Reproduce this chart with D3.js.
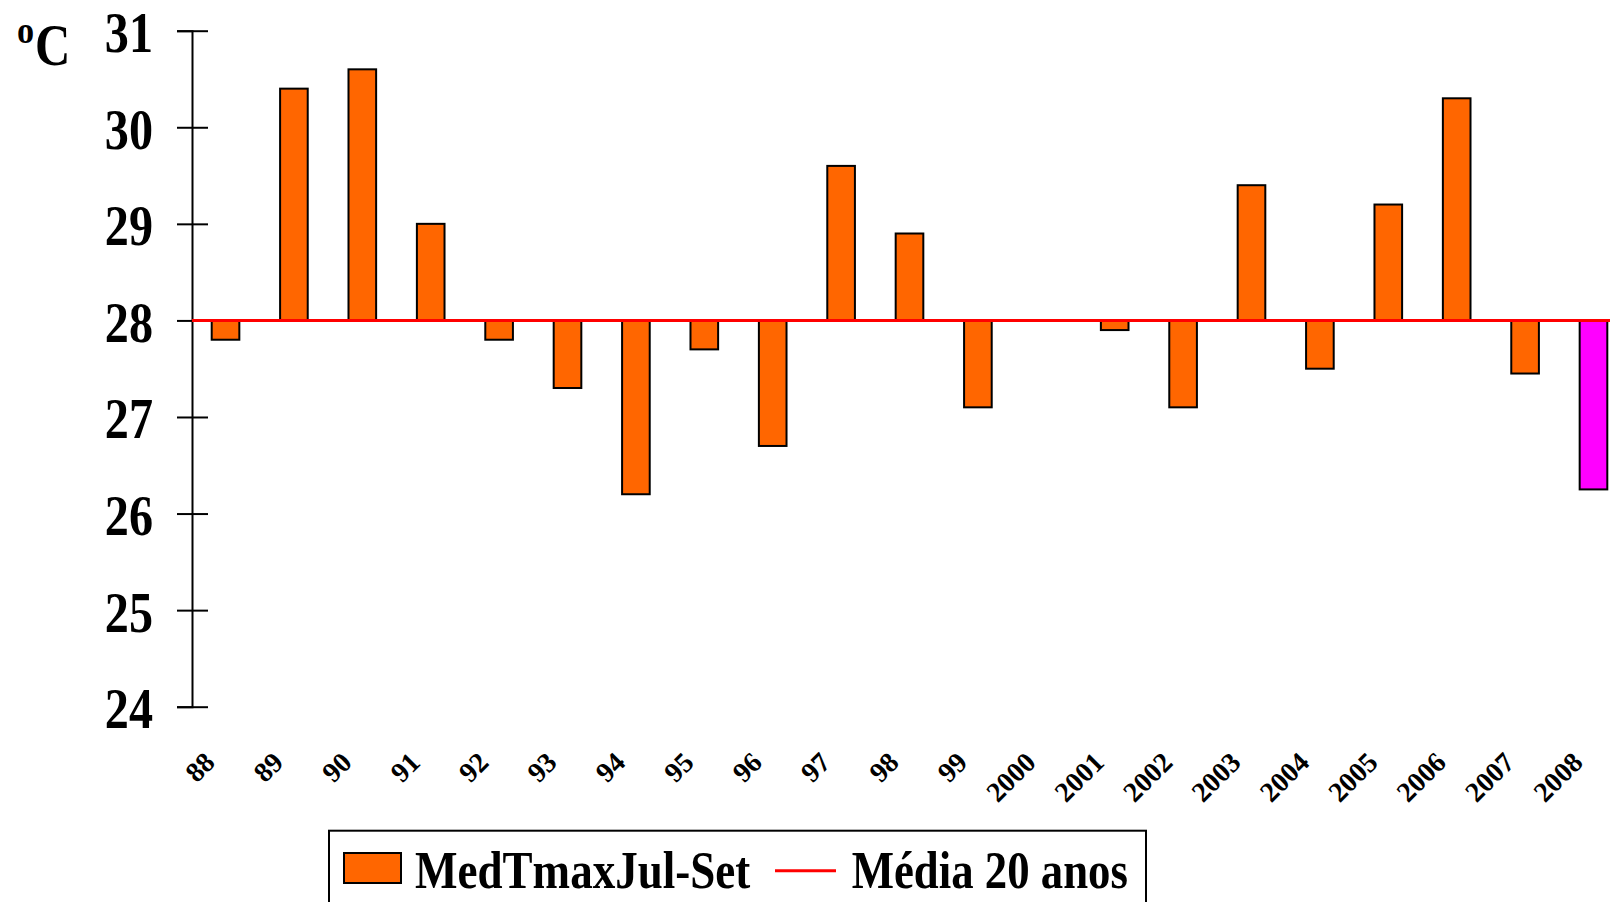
<!DOCTYPE html>
<html>
<head>
<meta charset="utf-8">
<script src="https://cdn.jsdelivr.net/npm/d3@7"></script>
<style>
  body { margin: 0; background: #fff; }
  svg { display: block; font-family: "Liberation Serif", "Times New Roman", serif; font-weight: bold; }
</style>
</head>
<body>
<svg></svg>
<script>
// ====== Données ====== //
const anos = ["88","89","90","91","92","93","94","95","96","97","98","99",
  "2000","2001","2002","2003","2004","2005","2006","2007","2008"];
const medTmax = [27.8, 30.4, 30.6, 29.0, 27.8, 27.3, 26.2, 27.7, 26.7, 29.6, 28.9, 27.1,
  28.0, 27.9, 27.1, 29.4, 27.5, 29.2, 30.3, 27.45, 26.25];
const media20 = 28;
const yTicks = [24, 25, 26, 27, 28, 29, 30, 31];
const legendLabels = ["MedTmaxJul-Set", "Média 20 anos"];

const width = 1610, height = 902;
const squeeze = 0.83; // le texte d'origine est un peu écrasé en largeur

const svg = d3.select("svg").attr("width", width).attr("height", height);

// échelles
const x = d3.scaleBand()
  .domain(anos)
  .range([192, 1627])
  .paddingInner(0.596)
  .paddingOuter(0.288);

const y = d3.scaleLinear()
  .domain([24, 31])
  .range([706.7, 30.7]);

// compresse un texte horizontalement
function squash(sel, k) {
  sel.each(function() {
    const w = this.getComputedTextLength();
    d3.select(this).attr("textLength", w * k).attr("lengthAdjust", "spacingAndGlyphs");
  });
}

// ====== Barres ====== //
svg.append("g")
  .selectAll("rect")
  .data(medTmax)
  .join("rect")
  .attr("x", (d, i) => x(anos[i]))
  .attr("width", x.bandwidth())
  .attr("y", d => y(Math.max(d, media20)))
  .attr("height", d => Math.abs(y(d) - y(media20)))
  .attr("fill", (d, i) => i === anos.length - 1 ? "#FF00FF" : "#FF6600")
  .attr("stroke", "#000")
  .attr("stroke-width", 2);

// ====== Axe Y ====== //
const yAxis = svg.append("g")
  .attr("transform", "translate(192,0)")
  .call(d3.axisLeft(y).tickValues(yTicks).tickFormat(d3.format("d")).tickSizeOuter(0).tickSize(15));

yAxis.select(".domain").attr("stroke", "#000").attr("stroke-width", 2);
yAxis.selectAll(".tick line")
  .attr("x1", -15).attr("x2", 16)
  .attr("stroke", "#000").attr("stroke-width", 2);
yAxis.selectAll(".tick text")
  .attr("x", -39)
  .attr("dy", 21)
  .attr("fill", "#000")
  .style("font-size", "58px")
  .style("font-family", "Liberation Serif, serif")
  .style("font-weight", "bold")
  .call(squash, squeeze);

// ligne de la moyenne (par-dessus les barres)
svg.append("line")
  .attr("x1", 192).attr("x2", width + 10)
  .attr("y1", y(media20)).attr("y2", y(media20))
  .attr("stroke", "#FF0000")
  .attr("stroke-width", 3);

// ====== Étiquettes X ====== //
svg.append("g")
  .selectAll("text")
  .data(anos)
  .join("text")
  .attr("transform", d => `translate(${x(d) + x.bandwidth() / 2 - 9},764) rotate(-45)`)
  .attr("text-anchor", "end")
  .style("font-size", "28px")
  .text(d => d);

// unité
const unit = svg.append("g");
unit.append("text")
  .attr("x", 17).attr("y", 43)
  .style("font-size", "38px")
  .text("o")
  .call(squash, 0.9);
unit.append("text")
  .attr("x", 35).attr("y", 65)
  .style("font-size", "59px")
  .text("C")
  .call(squash, squeeze);

// ====== Légende ====== //
const legend = svg.append("g");
legend.append("rect")
  .attr("x", 329).attr("y", 830.7)
  .attr("width", 817).attr("height", 100)
  .attr("fill", "none")
  .attr("stroke", "#000")
  .attr("stroke-width", 2);
legend.append("rect")
  .attr("x", 344).attr("y", 853)
  .attr("width", 57).attr("height", 30)
  .attr("fill", "#FF6600")
  .attr("stroke", "#000")
  .attr("stroke-width", 2);
legend.append("text")
  .attr("x", 415).attr("y", 887.7)
  .style("font-size", "53px")
  .text(legendLabels[0])
  .call(squash, 0.85);
legend.append("line")
  .attr("x1", 775).attr("x2", 836)
  .attr("y1", 870.7).attr("y2", 870.7)
  .attr("stroke", "#FF0000")
  .attr("stroke-width", 3);
legend.append("text")
  .attr("x", 851.7).attr("y", 887.7)
  .style("font-size", "53px")
  .text(legendLabels[1])
  .call(squash, 0.845);
</script>
</body>
</html>
